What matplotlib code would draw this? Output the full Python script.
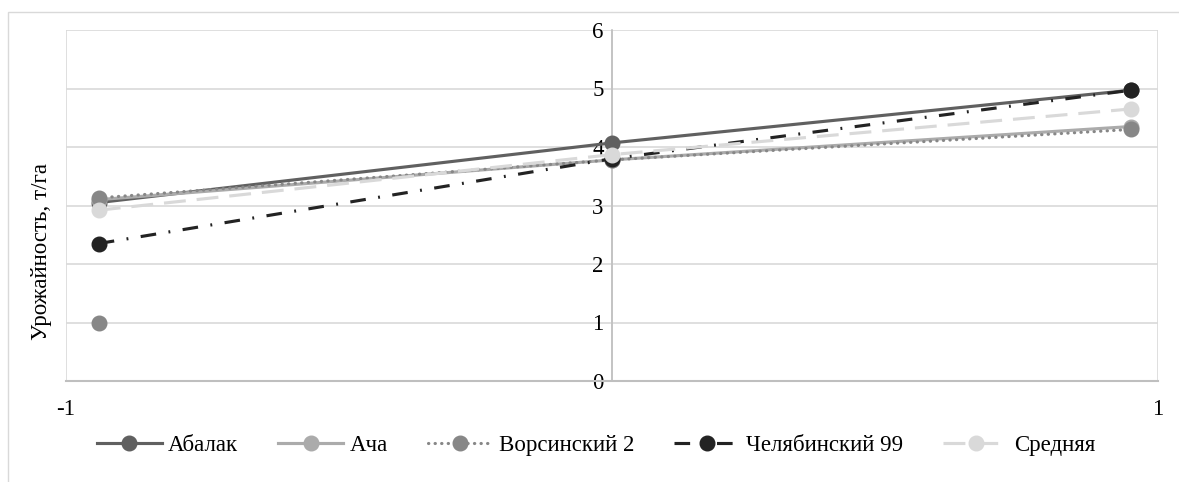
import matplotlib
matplotlib.use("Agg")
import matplotlib.pyplot as plt
from matplotlib.patches import Rectangle

plt.rcParams['font.family'] = ['Liberation Serif', 'DejaVu Serif']

# Environmental index (x) and yield, t/ha
env_index = [-0.94, 0.0, 0.95]
abalak = [3.05, 4.07, 4.97]
acha = [3.10, 3.78, 4.35]
vorsinsky = [3.13, 3.78, 4.30]
chelyabinsky = [2.35, 3.80, 4.97]
average = [2.92, 3.87, 4.65]
vorsinsky_extra_x = [-0.94]
vorsinsky_extra_y = [1.0]

series_names = ["Абалак", "Ача", "Ворсинский 2", "Челябинский 99", "Средняя"]
x_tick_values = [-1, 0, 1]
x_tick_labels = ["-1", "", "1"]
y_ticks = [0, 1, 2, 3, 4, 5, 6]

W, H = 1179, 482
FS = 16.5
fig = plt.figure(figsize=(W / 100, H / 100), dpi=100)
ax = fig.add_axes([66 / W, 1 - 381 / H, (1158 - 66) / W, (381 - 30) / H])

lw = 2.25
ms = 10.5
styles = [
    dict(color="#606060", linestyle="-"),
    dict(color="#ababab", linestyle="-"),
    dict(color="#878787", linestyle=(0, (0.1, 2.0)), dash_capstyle="round"),
    dict(color="#232323", linestyle=(0, (5, 4, 0.6, 4))),
    dict(color="#d9d9d9", linestyle=(0, (7, 3.5))),
]
data = [abalak, acha, vorsinsky, chelyabinsky, average]

for i, (name, vals, st) in enumerate(zip(series_names, data, styles)):
    ax.plot(env_index, vals, label=name, lw=lw, marker="o", markersize=ms,
            markerfacecolor=st["color"], markeredgecolor=st["color"],
            zorder=3 + i, clip_on=False, **st)
    if i == 2:
        ax.plot(vorsinsky_extra_x, vorsinsky_extra_y, linestyle="none",
                marker="o", markersize=ms, color=st["color"], zorder=3 + i)

ax.set_xlim(-1, 1)
ax.set_ylim(0, 6)
ax.set_xticks(x_tick_values)
ax.set_xticklabels(x_tick_labels)
ax.set_yticks(y_ticks)
ax.grid(True, color="#d9d9d9", lw=1.2, zorder=0)
ax.set_axisbelow(True)

for side in ["top", "right"]:
    ax.spines[side].set_visible(False)
ax.spines["left"].set_position(("data", 0))
ax.spines["left"].set_color("#bfbfbf")
ax.spines["left"].set_linewidth(1.2)
ax.spines["bottom"].set_color("#bfbfbf")
ax.spines["bottom"].set_linewidth(1.5)

ax.tick_params(axis="both", length=0, labelsize=FS, colors="black")
ax.tick_params(axis="x", pad=13)
ax.tick_params(axis="y", pad=6)

fig.text(42 / W, 1 - 252 / H, "Урожайность, т/га", rotation=90,
         ha="center", va="center", fontsize=FS)

leg = fig.legend(loc="center", bbox_to_anchor=(596 / W, 1 - 445 / H), ncol=5,
                 frameon=False, fontsize=FS, handlelength=2.85,
                 handletextpad=0.26, columnspacing=1.75)

# Chart area border
fig.add_artist(Rectangle((8 / W, -0.1), 2, 1 - 12 / H + 0.1,
                         transform=fig.transFigure, fill=False,
                         edgecolor="#d9d9d9", lw=1.0, clip_on=False))

fig.savefig("out.png", dpi=100)
